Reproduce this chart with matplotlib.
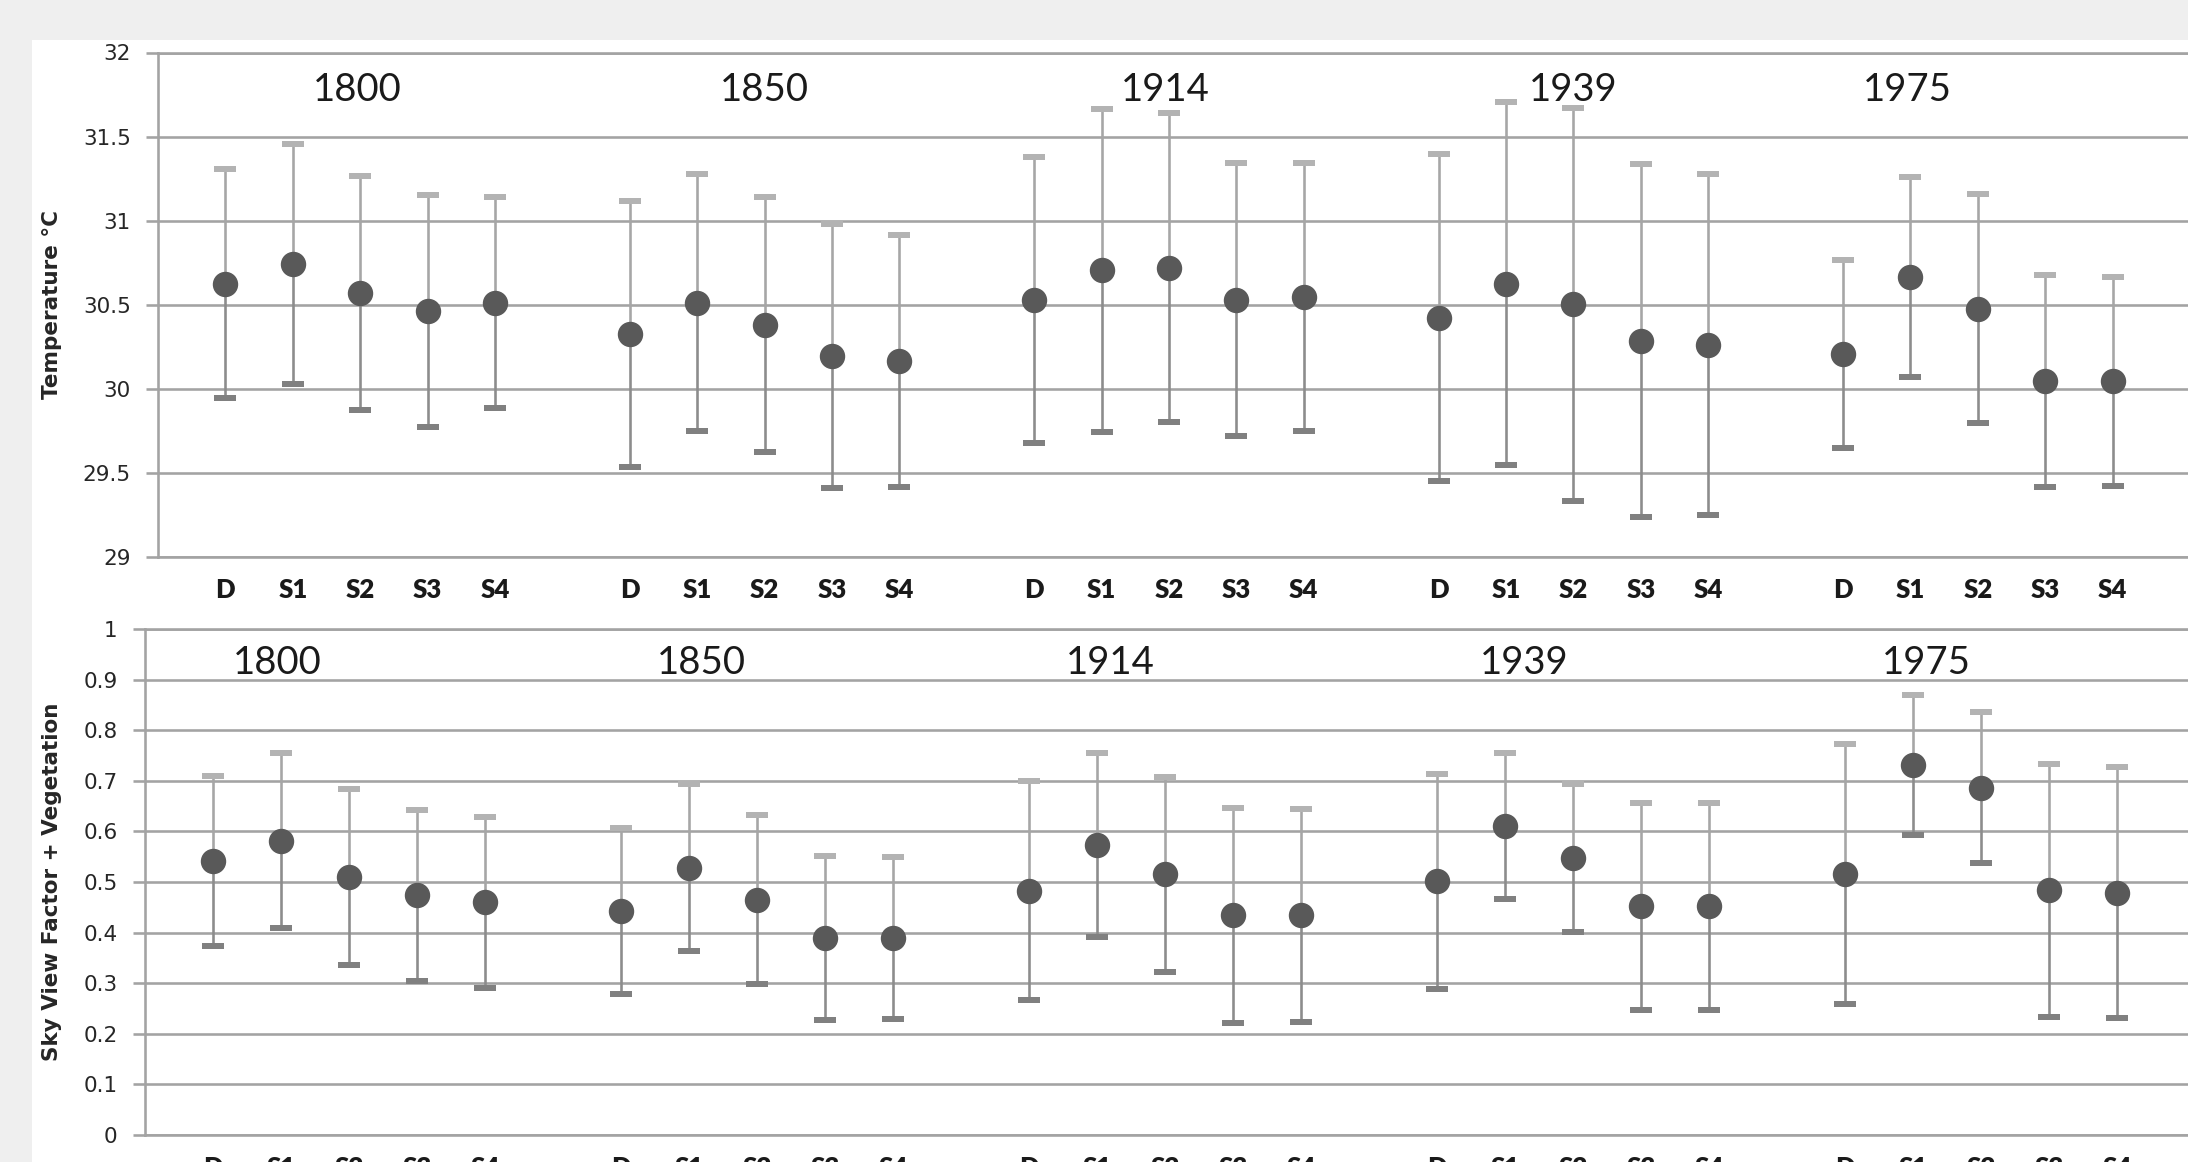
import matplotlib
matplotlib.use("Agg")
import matplotlib.pyplot as plt
from matplotlib.patches import Rectangle
from matplotlib.ticker import FuncFormatter

# ---------------- data ----------------
years = ["1800", "1850", "1914", "1939", "1975"]
scenarios = ["D", "S1", "S2", "S3", "S4"]

# Temperature (°C): mean and standard deviation per year / scenario
temp_mean = [
    [30.625, 30.743, 30.571, 30.461, 30.512],   # 1800
    [30.327, 30.512, 30.381, 30.193, 30.165],   # 1850
    [30.526, 30.705, 30.719, 30.531, 30.545],   # 1914
    [30.423, 30.625, 30.503, 30.287, 30.261],   # 1939
    [30.207, 30.665, 30.477, 30.045, 30.045],   # 1975
]
temp_sd = [
    [0.682, 0.712, 0.696, 0.689, 0.628],
    [0.792, 0.763, 0.757, 0.785, 0.750],
    [0.850, 0.959, 0.919, 0.812, 0.798],
    [0.973, 1.079, 1.169, 1.049, 1.014],
    [0.560, 0.595, 0.683, 0.629, 0.622],
]

# Sky View Factor + Vegetation: mean and standard deviation
svf_mean = [
    [0.541, 0.582, 0.510, 0.474, 0.460],
    [0.443, 0.528, 0.465, 0.390, 0.390],
    [0.483, 0.573, 0.515, 0.434, 0.434],
    [0.501, 0.610, 0.547, 0.452, 0.452],
    [0.515, 0.731, 0.686, 0.484, 0.479],
]
svf_sd = [
    [0.168, 0.173, 0.174, 0.169, 0.169],
    [0.164, 0.165, 0.167, 0.162, 0.160],
    [0.216, 0.182, 0.192, 0.212, 0.210],
    [0.213, 0.144, 0.146, 0.205, 0.205],
    [0.257, 0.139, 0.149, 0.250, 0.248],
]

temp_ticks = [29, 29.5, 30, 30.5, 31, 31.5, 32]
svf_ticks = [0, 0.1, 0.2, 0.3, 0.4, 0.5, 0.6, 0.7, 0.8, 0.9, 1]

# ---------------- layout / style ----------------
W, H = 2188, 1162
DPI = 100
GRID = "#a3a3a3"
MARK = "#595959"
LINE_UP = "#a6a6a6"
LINE_DN = "#8c8c8c"
CAP_UP = "#b3b3b3"
CAP_DN = "#808080"
TXT = "#262626"

px = 72.0 / DPI  # points per pixel

fig = plt.figure(figsize=(W / DPI, H / DPI), dpi=DPI, facecolor="#efefef")
bg = Rectangle((32 / W, 0), 1 - 32 / W, 1 - 40 / H,
               transform=fig.transFigure, facecolor="white",
               edgecolor="none", zorder=-10)
fig.patches.append(bg)

GAP = 6  # one empty category between year groups


def positions():
    xs = []
    for g in range(len(years)):
        for k in range(len(scenarios)):
            xs.append(g * GAP + k)
    return xs


def panel(rect, xlim, means, sds, ticks, ylabel, year_x, year_y, label_x):
    ax = fig.add_axes(rect)
    ax.set_facecolor("none")
    xs = positions()
    m = [v for row in means for v in row]
    s = [v for row in sds for v in row]
    up = [a + b for a, b in zip(m, s)]
    dn = [a - b for a, b in zip(m, s)]

    ax.vlines(xs, m, up, colors=LINE_UP, linewidth=2.6 * px, zorder=3)
    ax.vlines(xs, dn, m, colors=LINE_DN, linewidth=2.6 * px, zorder=3)
    ax.plot(xs, up, linestyle="none", marker="_", markersize=22 * px,
            markeredgewidth=6 * px, color=CAP_UP, zorder=4)
    ax.plot(xs, dn, linestyle="none", marker="_", markersize=22 * px,
            markeredgewidth=6 * px, color=CAP_DN, zorder=4)
    ax.plot(xs, m, linestyle="none", marker="o", markersize=24 * px,
            markerfacecolor=MARK, markeredgecolor=MARK, zorder=5)

    ax.set_xlim(*xlim)
    ax.set_ylim(ticks[0], ticks[-1])
    ax.set_yticks(ticks)
    ax.yaxis.set_major_formatter(FuncFormatter(lambda v, p: "%g" % v))
    ax.set_xticks(xs)
    ax.set_xticklabels(scenarios * len(years))
    ax.grid(axis="y", color=GRID, linewidth=2.6 * px, zorder=1)
    ax.set_axisbelow(True)

    ax.spines["right"].set_visible(False)
    for sp in ["left", "bottom", "top"]:
        ax.spines[sp].set_color(GRID)
        ax.spines[sp].set_linewidth(2.6 * px)

    ax.tick_params(axis="y", length=12 * px, width=2.6 * px, color=GRID,
                   pad=11, labelsize=15.5, labelcolor=TXT)
    ax.tick_params(axis="x", length=0, pad=15, labelcolor="#1a1a1a")
    for lab in ax.get_yticklabels():
        lab.set_fontfamily("DejaVu Sans")
    for lab in ax.get_xticklabels():
        lab.set_fontfamily("Lato")
        lab.set_fontweight("heavy")
        lab.set_fontsize(18.5)

    for yr, xx in zip(years, year_x):
        ax.text(xx, year_y, yr, ha="center", va="center", fontsize=27.5,
                fontfamily="Lato", color="#1a1a1a", zorder=6)

    fig.text(label_x / W, rect[1] + rect[3] / 2, ylabel, rotation=90,
             ha="center", va="center", fontsize=15.5, fontweight="bold",
             fontfamily="DejaVu Sans", color=TXT)
    return ax


# top panel: temperature
top_rect = [158 / W, 1 - 557 / H, 1 - 158 / W, (557 - 52.5) / H]
panel(top_rect, (-1.0, 29.12), temp_mean, temp_sd, temp_ticks,
      "Temperature °C", [1.95, 8.0, 13.95, 20.0, 24.95], 31.775, 52)

# bottom panel: sky view factor
bot_rect = [145 / W, 1 - 1135 / H, 1 - 145 / W, (1135 - 629) / H]
panel(bot_rect, (-1.0, 29.04), svf_mean, svf_sd, svf_ticks,
      "Sky View Factor + Vegetation", [0.94, 7.18, 13.2, 19.28, 25.2], 0.933, 52)

fig.savefig("out.png", dpi=DPI, facecolor=fig.get_facecolor())
